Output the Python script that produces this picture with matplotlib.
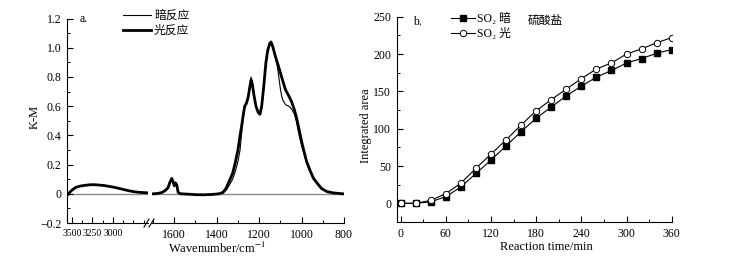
import matplotlib
matplotlib.use("Agg")
import matplotlib.pyplot as plt
from matplotlib.lines import Line2D
from matplotlib.ticker import MultipleLocator, FixedLocator, FixedFormatter

plt.rcParams['font.family'] = ['Liberation Serif', 'Noto Sans CJK SC', 'DejaVu Sans']
plt.rcParams['mathtext.fontset'] = 'stix'
plt.rcParams['axes.unicode_minus'] = True

# ---------------- data: panel a (spectra) ----------------
wn_hi = [3575, 3560, 3540, 3520, 3490, 3450, 3400, 3340, 3280, 3220, 3170, 3100,
         3040, 2980, 2920, 2860, 2800, 2740, 2680, 2620, 2590]
km_light_hi = [-0.012, -0.01, 0.0, 0.015, 0.03, 0.045, 0.053, 0.058, 0.062, 0.062,
               0.060, 0.056, 0.050, 0.044, 0.036, 0.028, 0.020, 0.014, 0.010, 0.008, 0.007]
km_dark_hi = [-0.012, -0.01, -0.002, 0.012, 0.027, 0.043, 0.052, 0.058, 0.064, 0.064,
              0.062, 0.057, 0.051, 0.044, 0.037, 0.029, 0.021, 0.015, 0.011, 0.008, 0.007]

wn_lo = [1700, 1680, 1660, 1645, 1630, 1620, 1612, 1605, 1600, 1594, 1588, 1582,
         1570, 1540, 1500, 1460, 1420, 1390, 1370, 1355, 1340, 1325, 1313, 1300,
         1290, 1282, 1275, 1268, 1260, 1252, 1244, 1238, 1232, 1225, 1215, 1205,
         1196, 1188, 1178, 1168, 1160, 1150, 1144, 1136, 1125, 1117, 1110, 1100,
         1094, 1088, 1075, 1060, 1047, 1035, 1025, 1013, 1000, 990, 976, 960, 945,
         925, 905, 880, 850, 820, 805]
km_light_lo = [0.0, 0.002, 0.008, 0.02, 0.04, 0.08, 0.105, 0.08, 0.055, 0.075, 0.06, 0.01,
               0.0, -0.002, -0.006, -0.007, -0.004, 0.0, 0.01, 0.04, 0.09, 0.14, 0.21, 0.30,
               0.40, 0.47, 0.54, 0.60, 0.62, 0.66, 0.73, 0.78, 0.75, 0.68, 0.60, 0.56,
               0.545, 0.60, 0.74, 0.90, 0.98, 1.03, 1.04, 1.01, 0.95, 0.91, 0.88, 0.83,
               0.80, 0.77, 0.71, 0.67, 0.63, 0.58, 0.53, 0.45, 0.36, 0.30, 0.22, 0.16, 0.11,
               0.07, 0.035, 0.015, 0.006, 0.002, 0.0]
km_dark_lo = [0.0, 0.002, 0.007, 0.018, 0.038, 0.075, 0.10, 0.078, 0.052, 0.072, 0.058, 0.01,
              0.0, -0.002, -0.006, -0.007, -0.004, 0.0, 0.006, 0.025, 0.06, 0.10, 0.15, 0.22,
              0.30, 0.42, 0.52, 0.59, 0.62, 0.67, 0.75, 0.80, 0.76, 0.68, 0.60, 0.555,
              0.54, 0.59, 0.72, 0.88, 0.97, 1.02, 1.03, 1.00, 0.94, 0.895, 0.83, 0.72,
              0.67, 0.64, 0.61, 0.60, 0.58, 0.55, 0.50, 0.41, 0.33, 0.28, 0.21, 0.15, 0.10,
              0.065, 0.032, 0.014, 0.006, 0.002, 0.0]

km_ticks = [-0.2, 0.0, 0.2, 0.4, 0.6, 0.8, 1.0, 1.2]
km_ticklabels = ['\u22120.2', '0', '0.2', '0.4', '0.6', '0.8', '1.0', '1.2']
wn_hi_ticks = [3500, 3250, 3000]
wn_lo_ticks = [1600, 1400, 1200, 1000, 800]
legend_a = ['暗反应', '光反应']

# ---------------- data: panel b (integrated area) ----------------
time_min = [0, 20, 40, 60, 80, 100, 120, 140, 160, 180, 200, 220, 240, 260, 280, 300, 320, 340, 360]
so2_dark = [0, 0, 2, 9, 22, 40, 58, 77, 96, 114, 129, 144, 157, 169, 178, 188, 194, 201, 206]
so2_light = [0, 0, 4, 13, 27, 47, 66, 85, 105, 124, 139, 153, 167, 180, 188, 200, 207, 215, 222]
legend_b = ['SO\u2082 暗', 'SO\u2082 光']

W, H = 747, 260
fig = plt.figure(figsize=(W / 100, H / 100), dpi=100)

def fx(px):
    return px / W

def fy(py):
    return 1 - py / H

FS = 8.5

def style(ax, left=True):
    for s in ['top', 'right']:
        ax.spines[s].set_visible(False)
    ax.spines['bottom'].set_linewidth(0.8)
    ax.spines['left'].set_linewidth(0.8)
    if not left:
        ax.spines['left'].set_visible(False)
    ax.tick_params(which='major', direction='in', length=4, width=0.8, labelsize=FS, pad=4)
    ax.tick_params(which='minor', direction='in', length=2.2, width=0.7)

# panel a
y_top, y_bot = 18.6, 223
ax1 = fig.add_axes([fx(67), fy(y_bot), fx(148 - 67), fy(y_top) - fy(y_bot)])
ax2 = fig.add_axes([fx(152), fy(y_bot), fx(344 - 152), fy(y_top) - fy(y_bot)], sharey=ax1)
style(ax1)
style(ax2, left=False)

for ax in (ax1, ax2):
    ax.axhline(0, color='#8a8a8a', lw=1.0, zorder=1)

ax1.plot(wn_hi, km_dark_hi, color='black', lw=0.8, zorder=3)
ax1.plot(wn_hi, km_light_hi, color='black', lw=2.0, zorder=2)
ax2.plot(wn_lo, km_dark_lo, color='black', lw=0.8, zorder=3)
ax2.plot(wn_lo, km_light_lo, color='black', lw=2.0, zorder=2)

ax1.set_xlim(3561, 2573)
ax2.set_xlim(1705, 800)
ax1.set_ylim(-0.2, 1.2)
ax1.yaxis.set_major_locator(FixedLocator(km_ticks))
ax1.yaxis.set_major_formatter(FixedFormatter(km_ticklabels))
ax1.yaxis.set_minor_locator(MultipleLocator(0.1))
ax1.xaxis.set_major_locator(FixedLocator(wn_hi_ticks))
ax1.xaxis.set_minor_locator(MultipleLocator(125))
ax1.tick_params(axis='x', labelsize=7.0)
ax2.xaxis.set_major_locator(FixedLocator(wn_lo_ticks))
ax2.xaxis.set_minor_locator(MultipleLocator(100))
ax2.tick_params(axis='y', which='both', left=False, labelleft=False)
fig.text(fx(35), fy(117), 'K-M', rotation=90, ha='center', va='center', fontsize=FS + 0.5)
fig.text(fx(217), fy(248), 'Wavenumber/cm$^{-1}$', ha='center', va='center', fontsize=FS + 0.5)

# axis break marks
for xb in (146.5, 151.5):
    fig.add_artist(Line2D([fx(xb - 2.5), fx(xb + 2.5)], [fy(y_bot + 4), fy(y_bot - 4)],
                          color='black', lw=0.8, transform=fig.transFigure))

fig.text(fx(80), fy(19), 'a.', ha='left', va='center', fontsize=FS)
h_a = [Line2D([], [], color='black', lw=0.8), Line2D([], [], color='black', lw=2.0)]
fig.legend(h_a, legend_a, loc='upper left', bbox_to_anchor=(fx(123), fy(10)),
           frameon=False, fontsize=FS, handlelength=2.4, handletextpad=0.2,
           labelspacing=0.25, borderpad=0, borderaxespad=0)

# panel b
axb = fig.add_axes([fx(396.7), fy(222.3), fx(671.7 - 396.7), fy(16.7) - fy(222.3)])
style(axb)
axb.plot(time_min, so2_dark, color='black', lw=0.8, marker='s', ms=4.2,
         mfc='black', mec='black', zorder=3)
axb.plot(time_min, so2_light, color='black', lw=0.8, marker='o', ms=4.6,
         mfc='white', mec='black', mew=0.7, zorder=4)
axb.set_xlim(-5.3, 360)
axb.set_ylim(-25.4, 250)
axb.xaxis.set_major_locator(MultipleLocator(60))
axb.xaxis.set_minor_locator(MultipleLocator(30))
axb.yaxis.set_major_locator(MultipleLocator(50))
axb.yaxis.set_minor_locator(MultipleLocator(25))
fig.text(fx(366), fy(126), 'Integrated area', rotation=90, ha='center', va='center', fontsize=FS + 0.5)
fig.text(fx(546), fy(247), 'Reaction time/min', ha='center', va='center', fontsize=FS + 0.5)
fig.text(fx(413), fy(22), 'b.', ha='left', va='center', fontsize=FS)
fig.text(fx(528), fy(21), '硫酸盐', ha='left', va='center', fontsize=FS)
h_b = [Line2D([], [], color='black', lw=0.8, marker='s', ms=4.2, mfc='black'),
       Line2D([], [], color='black', lw=0.8, marker='o', ms=4.6, mfc='white', mew=0.7)]
fig.legend(h_b, legend_b, loc='upper left', bbox_to_anchor=(fx(451), fy(13)),
           frameon=False, fontsize=FS, handlelength=2.0, handletextpad=0.2,
           labelspacing=0.25, borderpad=0, borderaxespad=0)

fig.savefig('out.png', dpi=100)
